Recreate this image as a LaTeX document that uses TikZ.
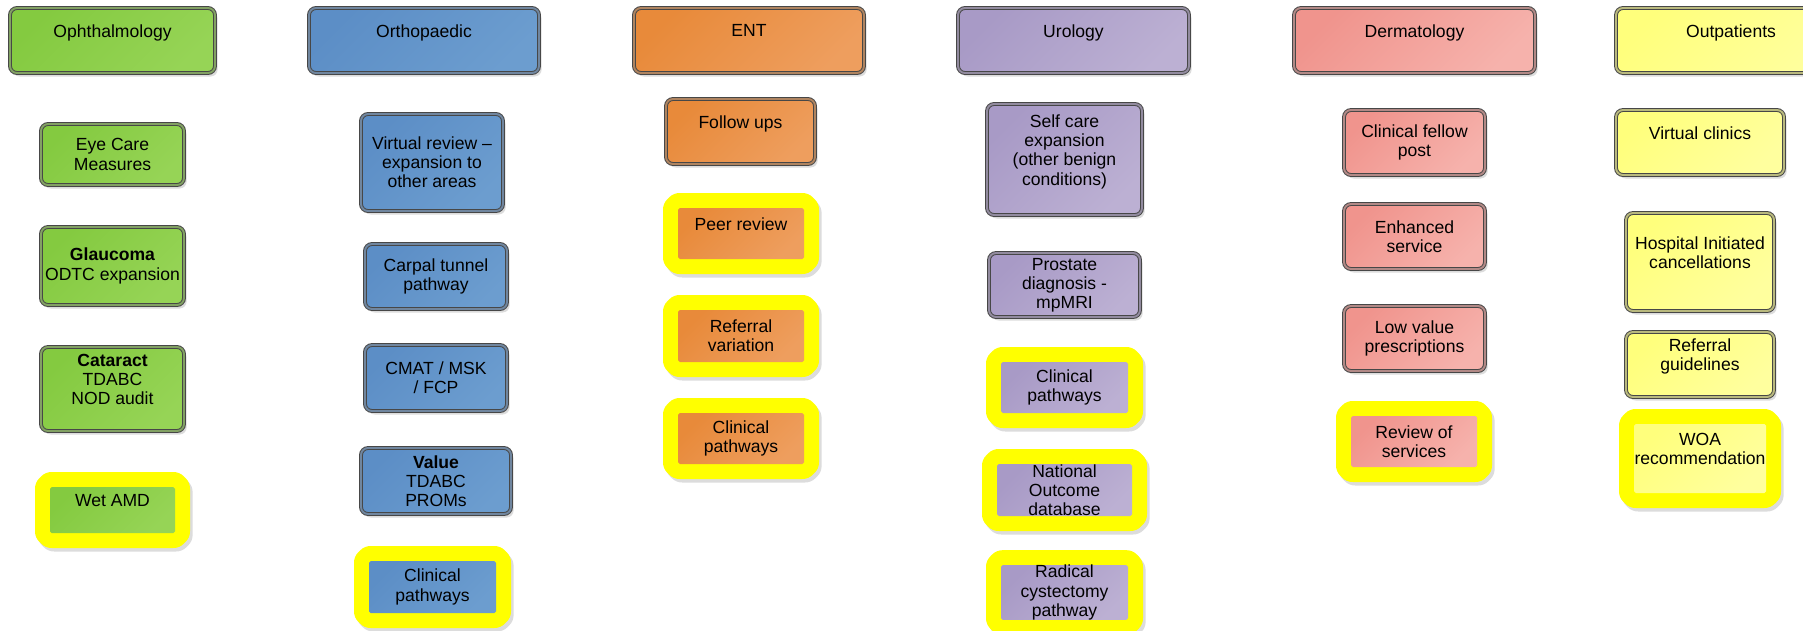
\documentclass[tikz,border=0pt]{standalone}
\usepackage{fontspec}
\setmainfont{Liberation Sans}
\usetikzlibrary{shadows}

\definecolor{ophL}{RGB}{132,202,64}
\definecolor{ophR}{RGB}{150,212,86}
\definecolor{ortL}{RGB}{92,142,198}
\definecolor{ortR}{RGB}{108,157,207}
\definecolor{entL}{RGB}{232,138,58}
\definecolor{entR}{RGB}{238,158,94}
\definecolor{uroL}{RGB}{168,154,198}
\definecolor{uroR}{RGB}{188,176,211}
\definecolor{derL}{RGB}{240,148,141}
\definecolor{derR}{RGB}{246,178,172}
\definecolor{outL}{RGB}{255,255,124}
\definecolor{outR}{RGB}{255,255,158}
\definecolor{hilite}{RGB}{255,255,0}

\tikzset{
  base/.style={align=center, inner sep=0pt, font=\fontsize{10}{10.9}\selectfont,
    top color=#1L, bottom color=#1R, shading angle=45},
  box/.style={base=#1, rounded corners=4pt, draw=black!72, line width=0.55pt,
    double=#1L!45!gray, double distance=1.1pt,
    drop shadow={shadow xshift=1.5pt, shadow yshift=-2pt, fill=black!30, opacity=.45}},
  head/.style={box=#1, minimum height=1.30cm},
  hbox/.style={base=#1, rounded corners=1pt,
    general shadow={draw=black!30, fill=black!30, line width=0.6cm, line join=round,
      shadow xshift=1.5pt, shadow yshift=-2pt, opacity=.45},
    preaction={draw=hilite, line width=0.6cm, line join=round}}
}

\begin{document}
\begin{tikzpicture}
  \useasboundingbox (0,0) rectangle (36.06,-12.6);

  \node[head=oph, minimum width=4.10cm] (oph) at (2.25,-0.81) {Ophthalmology\\\mbox{}};
  \node[head=ort, minimum width=4.60cm] (ort) at (8.48,-0.81) {Orthopaedic\\\mbox{}};
  \node[head=ent, minimum width=4.60cm] (ent) at (14.98,-0.81) {ENT\\\mbox{}};
  \node[head=uro, minimum width=4.62cm] (uro) at (21.47,-0.81) {Urology\\\mbox{}};
  \node[head=der, minimum width=4.82cm] (der) at (28.29,-0.81) {Dermatology\\\mbox{}};
  \node[head=out, minimum width=4.60cm] (out) at (34.62,-0.81) {Outpatients\\\mbox{}};

  \node[box=oph, minimum width=2.86cm, minimum height=1.22cm] (ophEye) at (2.25,-3.09) {Eye Care\\Measures};
  \node[box=oph, minimum width=2.86cm, minimum height=1.56cm] (ophGla) at (2.25,-5.32) {\textbf{Glaucoma}\\ODTC expansion};
  \node[box=oph, minimum width=2.86cm, minimum height=1.68cm] (ophCat) at (2.25,-7.78) {\textbf{Cataract}\\TDABC\\NOD audit\\\mbox{}};
  \node[hbox=oph, minimum width=2.50cm, minimum height=0.92cm] (ophWet) at (2.25,-10.20) {Wet AMD\\\mbox{}};

  \node[box=ort, minimum width=2.84cm, minimum height=1.94cm] (ortVir) at (8.64,-3.25) {Virtual review --\\expansion to\\other areas};
  \node[box=ort, minimum width=2.84cm, minimum height=1.30cm] (ortCar) at (8.72,-5.53) {Carpal tunnel\\pathway};
  \node[box=ort, minimum width=2.84cm, minimum height=1.32cm] (ortCma) at (8.72,-7.56) {CMAT / MSK\\/ FCP};
  \node[box=ort, minimum width=3.00cm, minimum height=1.32cm] (ortVal) at (8.72,-9.62) {\textbf{Value}\\TDABC\\PROMs};
  \node[hbox=ort, minimum width=2.54cm, minimum height=1.04cm] (ortCli) at (8.65,-11.74) {Clinical\\pathways};

  \node[box=ent, minimum width=2.98cm, minimum height=1.30cm] (entFol) at (14.81,-2.63) {Follow ups\\\mbox{}};
  \node[hbox=ent, minimum width=2.52cm, minimum height=1.02cm] (entPee) at (14.82,-4.67) {Peer review\\\mbox{}};
  \node[hbox=ent, minimum width=2.52cm, minimum height=1.04cm] (entRef) at (14.82,-6.72) {Referral\\variation};
  \node[hbox=ent, minimum width=2.52cm, minimum height=1.02cm] (entCli) at (14.82,-8.77) {Clinical\\pathways};

  \node[box=uro, minimum width=3.10cm, minimum height=2.22cm] (uroSel) at (21.29,-3.19) {Self care\\expansion\\(other benign\\conditions)\\\mbox{}};
  \node[box=uro, minimum width=3.02cm, minimum height=1.28cm] (uroPro) at (21.29,-5.70) {Prostate\\diagnosis -\\mpMRI};
  \node[hbox=uro, minimum width=2.54cm, minimum height=1.02cm] (uroCli) at (21.29,-7.75) {Clinical\\pathways};
  \node[hbox=uro, minimum width=2.70cm, minimum height=1.04cm] (uroNat) at (21.29,-9.80) {National\\Outcome\\database};
  \node[hbox=uro, minimum width=2.54cm, minimum height=1.02cm] (uroRad) at (21.29,-11.85) {Radical\\cystectomy\\pathway};

  \node[box=der, minimum width=2.82cm, minimum height=1.30cm] (derCli) at (28.29,-2.85) {Clinical fellow\\post};
  \node[box=der, minimum width=2.82cm, minimum height=1.30cm] (derEnh) at (28.29,-4.73) {Enhanced\\service};
  \node[box=der, minimum width=2.82cm, minimum height=1.30cm] (derLow) at (28.29,-6.77) {Low value\\prescriptions};
  \node[hbox=der, minimum width=2.52cm, minimum height=1.02cm] (derRev) at (28.28,-8.83) {Review of\\services};

  \node[box=out, minimum width=3.36cm, minimum height=1.30cm] (outVir) at (34.00,-2.85) {Virtual clinics\\\mbox{}};
  \node[box=out, minimum width=2.96cm, minimum height=1.96cm] (outHos) at (34.00,-5.24) {Hospital Initiated\\cancellations\\\mbox{}};
  \node[box=out, minimum width=2.96cm, minimum height=1.30cm] (outRef) at (34.00,-7.29) {Referral\\guidelines\\\mbox{}};
  \node[hbox=out, minimum width=2.64cm, minimum height=1.38cm] (outWoa) at (34.00,-9.17) {WOA\\recommendation\\\mbox{}};
\end{tikzpicture}
\end{document}
